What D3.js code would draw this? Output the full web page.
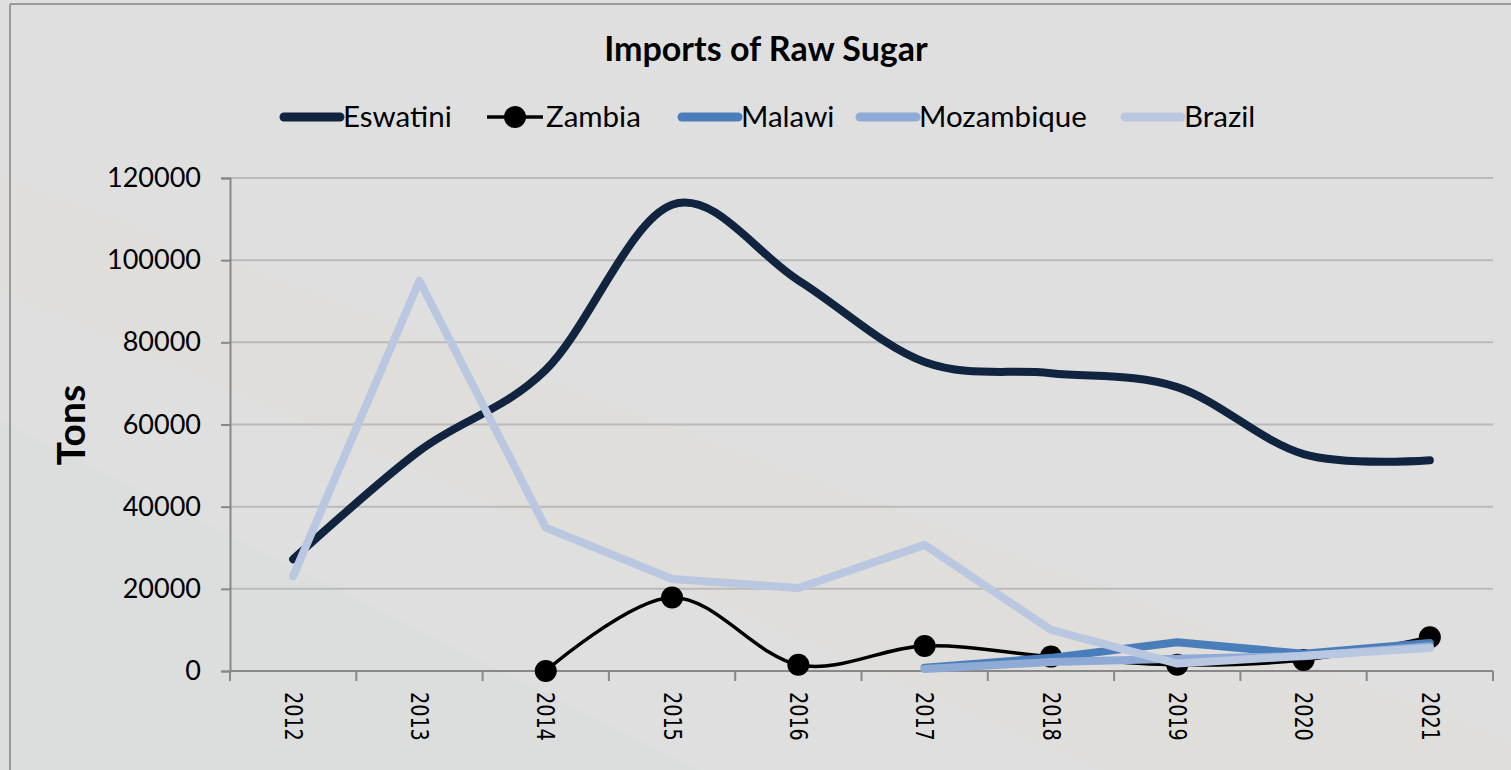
<!DOCTYPE html>
<html>
<head>
<meta charset="utf-8">
<script src="https://cdn.jsdelivr.net/npm/d3@7"></script>
<style>
  html, body { margin: 0; padding: 0; background: #dfdfdf; }
  svg { display: block; }
</style>
</head>
<body>
<svg id="chart" width="1511" height="770"></svg>
<script>
// Данные
const years = ["2012", "2013", "2014", "2015", "2016", "2017", "2018", "2019", "2020", "2021"];
const eswatini = [27200, 53600, 73300, 113500, 95100, 75200, 72500, 69100, 52800, 51300];
const zambia = [null, null, 0, 17900, 1500, 6100, 3500, 1500, 2700, 8200];
const malawi = [null, null, null, null, null, 800, 3200, 7000, 4200, 6800];
const mozambique = [null, null, null, null, null, 500, 2200, 3000, 3600, 6000];
const brazil = [23100, 95000, 34900, 22400, 20200, 30700, 10000, 1800, 3700, 5600];
const yTicks = [0, 20000, 40000, 60000, 80000, 100000, 120000];

const seriesList = [
    { name: "Eswatini", values: eswatini, color: "#10243f", width: 8, smooth: true },
    { name: "Zambia", values: zambia, color: "#000000", width: 3.5, smooth: true, marker: true },
    { name: "Malawi", values: malawi, color: "#4a7ebb", width: 8 },
    { name: "Mozambique", values: mozambique, color: "#8faad5", width: 8 },
    { name: "Brazil", values: brazil, color: "#b9c7e0", width: 8 }
];

const svg = d3.select("#chart");
const font = "Lato, 'Open Sans', sans-serif";

// Фон с едва заметными полосами
svg.append("rect").attr("width", 1511).attr("height", 770).attr("fill", "#dfdfdf");
svg.append("path")
    .attr("d", "M0,175 L0,290 L1100,770 L1511,770 L1511,740 Z")
    .attr("fill", "#e6ddd4").attr("opacity", 0.3);
svg.append("path")
    .attr("d", "M0,420 L0,770 L700,770 Z")
    .attr("fill", "#d6dcdc").attr("opacity", 0.35);

// Рамка
svg.append("line").attr("x1", 10).attr("y1", 4).attr("x2", 1511).attr("y2", 4)
    .attr("stroke", "#9a9a9a").attr("stroke-width", 2);
svg.append("line").attr("x1", 10).attr("y1", 4).attr("x2", 10).attr("y2", 770)
    .attr("stroke", "#9a9a9a").attr("stroke-width", 2);

// Шкалы
const x = d3.scaleBand().domain(years).range([230, 1493]);
const y = d3.scaleLinear().domain([0, 120000]).range([671, 178]);
const cx = d => x(d) + x.bandwidth() / 2;

// Сетка
svg.append("g").selectAll("line")
    .data(yTicks.filter(t => t > 0))
    .join("line")
    .attr("x1", 230).attr("x2", 1493)
    .attr("y1", d => y(d)).attr("y2", d => y(d))
    .attr("stroke", "#bababa").attr("stroke-width", 2);

// Ось Y
const yAxis = svg.append("g")
    .attr("transform", "translate(230,0)")
    .call(d3.axisLeft(y).tickValues(yTicks).tickSize(9).tickPadding(20).tickFormat(d3.format("d")));
yAxis.select(".domain").attr("stroke", "#888").attr("stroke-width", 2);
yAxis.selectAll(".tick line").attr("stroke", "#888").attr("stroke-width", 2);
yAxis.selectAll(".tick text")
    .attr("fill", "#000").style("font-family", font).style("font-size", "27px");

// Ось X (риски на границах категорий)
const xAxis = svg.append("g").attr("transform", "translate(0,671)");
xAxis.append("line").attr("x1", 230).attr("x2", 1493)
    .attr("stroke", "#888").attr("stroke-width", 2);
const bounds = years.map(d => x(d)).concat([x.range()[1]]);
xAxis.selectAll(".xt").data(bounds).join("line")
    .attr("x1", d => d).attr("x2", d => d).attr("y1", 0).attr("y2", 10)
    .attr("stroke", "#888").attr("stroke-width", 2);
xAxis.selectAll(".xl").data(years).join("text")
    .attr("transform", d => `translate(${cx(d)},21) rotate(90) scale(0.8,1)`)
    .attr("text-anchor", "start")
    .attr("dominant-baseline", "central")
    .style("font-family", "'DejaVu Sans', sans-serif")
    .style("font-size", "24px")
    .attr("fill", "#000")
    .text(d => d);

// Линии
seriesList.forEach(s => {
    const pts = years.map((yr, i) => ({ yr, v: s.values[i] })).filter(p => p.v !== null);
    const line = d3.line()
        .x(p => cx(p.yr))
        .y(p => y(p.v))
        .curve(s.smooth ? d3.curveCardinal.tension(0) : d3.curveLinear);
    svg.append("path")
        .datum(pts)
        .attr("d", line)
        .attr("fill", "none")
        .attr("stroke", s.color)
        .attr("stroke-width", s.width)
        .attr("stroke-linejoin", "round")
        .attr("stroke-linecap", "round");
    if (s.marker) {
        svg.append("g").selectAll("circle").data(pts).join("circle")
            .attr("cx", p => cx(p.yr)).attr("cy", p => y(p.v)).attr("r", 11)
            .attr("fill", s.color);
    }
});

// Заголовок
svg.append("text")
    .attr("x", 766).attr("y", 61)
    .attr("text-anchor", "middle")
    .style("font-family", font).style("font-weight", "bold").style("font-size", "34px")
    .text("Imports of Raw Sugar");

// Подпись оси Y
svg.append("text")
    .attr("transform", "translate(85,425) rotate(-90)")
    .attr("text-anchor", "middle")
    .style("font-family", font).style("font-weight", "bold").style("font-size", "39px")
    .text("Tons");

// Легенда
const legendX = [284, 487, 682, 860, 1125];
const legend = svg.append("g");
seriesList.forEach((s, i) => {
    const g = legend.append("g").attr("transform", `translate(${legendX[i]},117)`);
    g.append("line").attr("x1", 0).attr("x2", 56)
        .attr("stroke", s.color)
        .attr("stroke-width", s.marker ? 3.5 : 9)
        .attr("stroke-linecap", s.marker ? "butt" : "round");
    if (s.marker) g.append("circle").attr("cx", 28).attr("r", 11).attr("fill", s.color);
    g.append("text").attr("x", 59).attr("y", 10)
        .style("font-family", font).style("font-size", "29.5px")
        .text(s.name);
});
</script>
</body>
</html>
